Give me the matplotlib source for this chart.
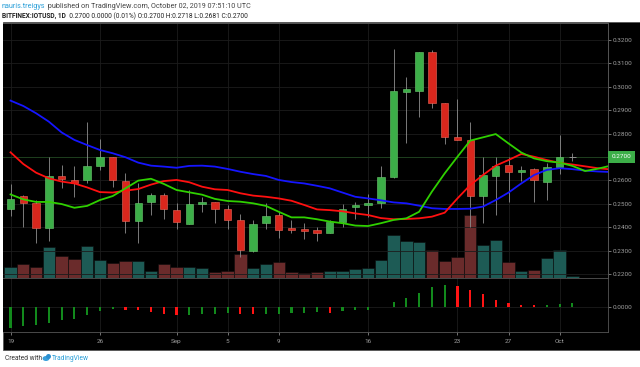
import numpy as np
import matplotlib
matplotlib.use("Agg")
import matplotlib.pyplot as plt
import matplotlib.transforms as mtransforms
from matplotlib.patches import Rectangle, Ellipse

plt.rcParams["font.family"] = ["Roboto", "DejaVu Sans"]

# BITFINEX:IOTUSD daily, 19 Aug - 02 Oct 2019
opens = [0.2476, 0.2535, 0.2502, 0.2395, 0.2617, 0.2600, 0.2600, 0.2663, 0.2701, 0.2599,
         0.2425, 0.2509, 0.2536, 0.2475, 0.2415, 0.2501, 0.2506, 0.2479, 0.2431, 0.2300,
         0.2417, 0.2451, 0.2395, 0.2392, 0.2388, 0.2377, 0.2421, 0.2488, 0.2493, 0.2502,
         0.2616, 0.2978, 0.2983, 0.3150, 0.2932, 0.2784, 0.2773, 0.2535, 0.2620, 0.2667,
         0.2634, 0.2647, 0.2595, 0.2659, 0.2700]
highs = [0.2583, 0.2538, 0.2516, 0.2701, 0.2664, 0.2662, 0.2851, 0.2777, 0.2701, 0.2630,
         0.2590, 0.2548, 0.2545, 0.2505, 0.2559, 0.2530, 0.2508, 0.2493, 0.2456, 0.2431,
         0.2502, 0.2465, 0.2431, 0.2419, 0.2402, 0.2431, 0.2498, 0.2509, 0.2540, 0.2663,
         0.3160, 0.3043, 0.3150, 0.3157, 0.2932, 0.2946, 0.2851, 0.2701, 0.2699, 0.2699,
         0.2662, 0.2652, 0.2673, 0.2794, 0.2718]
lows = [0.2449, 0.2399, 0.2334, 0.2342, 0.2569, 0.2530, 0.2587, 0.2644, 0.2573, 0.2377,
        0.2334, 0.2452, 0.2434, 0.2391, 0.2414, 0.2466, 0.2417, 0.2391, 0.2271, 0.2295,
        0.2392, 0.2355, 0.2374, 0.2348, 0.2342, 0.2374, 0.2402, 0.2435, 0.2445, 0.2483,
        0.2612, 0.2761, 0.2870, 0.2908, 0.2756, 0.2771, 0.2399, 0.2417, 0.2452, 0.2509,
        0.2599, 0.2509, 0.2516, 0.2626, 0.2681]
closes = [0.2519, 0.2502, 0.2395, 0.2617, 0.2606, 0.2587, 0.2663, 0.2701, 0.2600, 0.2425,
          0.2502, 0.2536, 0.2476, 0.2421, 0.2501, 0.2506, 0.2479, 0.2431, 0.2303, 0.2412,
          0.2448, 0.2388, 0.2388, 0.2385, 0.2374, 0.2421, 0.2478, 0.2495, 0.2505, 0.2616,
          0.2982, 0.2991, 0.3150, 0.2932, 0.2784, 0.2771, 0.2535, 0.2623, 0.2662, 0.2634,
          0.2646, 0.2600, 0.2656, 0.2701, 0.2700]
# volume (millions)
volume = [1.07, 1.43, 1.07, 3.13, 2.17, 1.93, 3.23, 1.80, 1.53, 1.70,
          1.70, 0.73, 1.37, 1.07, 1.13, 0.97, 0.63, 0.70, 2.43, 0.97,
          1.40, 1.63, 0.60, 0.50, 0.60, 0.70, 0.70, 0.93, 1.00, 1.83,
          4.33, 3.67, 3.60, 2.83, 1.70, 2.10, 6.30, 3.27, 3.77, 1.60,
          0.67, 0.83, 1.97, 2.83, 0.23]

# Alligator (jaw / teeth / lips), shifted forward past the last bar
jaw = [0.2941, 0.2918, 0.2887, 0.2851, 0.2805, 0.2773, 0.2751, 0.2730, 0.2716, 0.2699,
       0.2676, 0.2663, 0.2659, 0.2654, 0.2662, 0.2663, 0.2659, 0.2649, 0.2637, 0.2627,
       0.2619, 0.2602, 0.2593, 0.2587, 0.2577, 0.2566, 0.2548, 0.2530, 0.2523, 0.2515,
       0.2506, 0.2502, 0.2492, 0.2481, 0.2478, 0.2478, 0.2479, 0.2488, 0.2516, 0.2548,
       0.2587, 0.2623, 0.2645, 0.2652, 0.2648, 0.2642, 0.2638, 0.2636]
teeth = [0.2720, 0.2670, 0.2633, 0.2609, 0.2595, 0.2587, 0.2570, 0.2550, 0.2548, 0.2556,
         0.2563, 0.2582, 0.2597, 0.2602, 0.2592, 0.2573, 0.2562, 0.2559, 0.2545, 0.2535,
         0.2530, 0.2523, 0.2513, 0.2495, 0.2476, 0.2473, 0.2468, 0.2459, 0.2452, 0.2439,
         0.2434, 0.2435, 0.2438, 0.2445, 0.2462, 0.2523, 0.2580, 0.2623, 0.2663, 0.2687,
         0.2713, 0.2701, 0.2687, 0.2675, 0.2668, 0.2660, 0.2652, 0.2647]
lips = [0.2540, 0.2519, 0.2508, 0.2508, 0.2499, 0.2483, 0.2491, 0.2516, 0.2533, 0.2566,
        0.2599, 0.2607, 0.2585, 0.2559, 0.2549, 0.2539, 0.2521, 0.2512, 0.2509, 0.2502,
        0.2491, 0.2466, 0.2442, 0.2442, 0.2434, 0.2424, 0.2417, 0.2407, 0.2405, 0.2417,
        0.2431, 0.2438, 0.2466, 0.2552, 0.2630, 0.2701, 0.2770, 0.2784, 0.2798, 0.2758,
        0.2719, 0.2694, 0.2682, 0.2676, 0.2662, 0.2640, 0.2650, 0.2663]

# awesome oscillator
ao = [-0.0105, -0.0095, -0.0089, -0.0079, -0.0065, -0.0059, -0.0039, -0.0020, -0.0012, -0.0014,
      -0.0015, -0.0024, -0.0034, -0.0040, -0.0039, -0.0034, -0.0033, -0.0030, -0.0034, -0.0035,
      -0.0034, -0.0033, -0.0032, -0.0029, -0.0025, -0.0029, -0.0022, -0.0017, -0.0014, 0.0000,
      0.0024, 0.0044, 0.0072, 0.0099, 0.0112, 0.0104, 0.0087, 0.0064, 0.0037, 0.0022,
      0.0009, 0.0008, 0.0012, 0.0017, 0.0020]

xtick_pos = [0, 7, 13, 17, 21, 28, 35, 39, 43]
xtick_labels = ["19", "26", "Sep", "5", "9", "16", "23", "27", "Oct"]
price_ticks = [0.22, 0.23, 0.24, 0.25, 0.26, 0.27, 0.28, 0.29, 0.30, 0.31, 0.32]
last_price = 0.2700

W, H = 640, 367
UP, DOWN, WICK = "#3cae48", "#d9271d", "#8f8f8f"
GRID = "#1c1c1c"
AXC = "#a0a0a0"
FS = 4.6


def rect(x0, y0, x1, y1):
    return [x0 / W, 1 - y1 / H, (x1 - x0) / W, (y1 - y0) / H]


fig = plt.figure(figsize=(W / 100, H / 100), dpi=100)
fig.patch.set_facecolor("white")
fig.patches.append(Rectangle((3 / W, 1 - 350 / H), 637 / W, 328 / H, transform=fig.transFigure,
                             facecolor="black", edgecolor="#555555", lw=0.6, zorder=-5))

n = len(closes)
x = np.arange(n)
xlim = (-0.59, 46.79)

# volume pane (behind price)
axv = fig.add_axes(rect(3, 23, 608, 278))
axv.set_facecolor("black")
vcol = ["#1d5b55" if c >= o else "#6a2b2b" for o, c in zip(opens, closes)]
axv.bar(x, volume, width=0.96, color=vcol, edgecolor="#0c0c0c", linewidth=0.4)
axv.set_ylim(0, 25.5)
axv.set_xlim(*xlim)
axv.set_xticks([])
axv.set_yticks([])
for t in xtick_pos:
    axv.axvline(t, color=GRID, lw=0.6, zorder=0)

ax = fig.add_axes(rect(3, 23, 608, 278), sharex=axv)
ax.patch.set_alpha(0)
ax.set_ylim(0.21829, 0.32726)
for p in price_ticks:
    ax.axhline(p, color=GRID, lw=0.6, zorder=0)
ax.axhline(last_price, color="#1e3f1e", lw=0.7, zorder=1)

for i in range(n):
    o, h, l, c = opens[i], highs[i], lows[i], closes[i]
    ax.vlines(i, l, h, color=WICK, lw=0.6, zorder=2)
    if abs(c - o) < 1e-6:
        ax.hlines(c, i - 0.28, i + 0.28, color=WICK, lw=0.7, zorder=3)
        continue
    col = UP if c > o else DOWN
    edge = "#6ccb70" if c > o else "#ee6a5c"
    ax.add_patch(Rectangle((i - 0.29, min(o, c)), 0.58, abs(c - o), facecolor=col,
                           edgecolor=edge, lw=0.4, zorder=3))

xa = np.arange(len(jaw))
ax.plot(xa, jaw, color="#1515ff", lw=1.3, zorder=4)
ax.plot(xa, teeth, color="#ff1010", lw=1.3, zorder=4)
ax.plot(xa, lips, color="#2fd000", lw=1.3, zorder=4)

ax.yaxis.tick_right()
ax.set_yticks(price_ticks)
ax.set_yticklabels(["" if abs(p - last_price) < 1e-9 else f"{p:.4f}" for p in price_ticks])
ax.tick_params(axis="y", colors=AXC, labelsize=FS, length=2, width=0.5, pad=1.5)
ax.tick_params(axis="x", bottom=False, labelbottom=False)
for a in (ax, axv):
    for s in a.spines.values():
        s.set_color("#555555")
        s.set_linewidth(0.6)
    a.spines["left"].set_visible(False)

# last price tag on the scale
tr = mtransforms.blended_transform_factory(fig.transFigure, ax.transData)
fig.text(612 / W, last_price, f"{last_price:.4f}", transform=tr, fontsize=FS, color="white",
         va="center", ha="left",
         bbox=dict(boxstyle="square,pad=0.55", facecolor="#3cae48", edgecolor="none"))

# oscillator pane
axo = fig.add_axes(rect(3, 278, 608, 332), sharex=axv)
axo.set_facecolor("black")
ocol = ["#128a1c" if i == 0 or ao[i] >= ao[i - 1] else "#ff1414" for i in range(n)]
axo.bar(x, ao, width=0.17, color=ocol, zorder=3)
axo.set_ylim(-0.0125, 0.0145)
axo.axhline(0, color=GRID, lw=0.6, zorder=0)
for t in xtick_pos:
    axo.axvline(t, color=GRID, lw=0.6, zorder=0)
axo.yaxis.tick_right()
axo.set_yticks([0.0])
axo.set_yticklabels(["0.0000"])
axo.set_xticks(xtick_pos)
axo.set_xticklabels(xtick_labels)
axo.tick_params(axis="y", colors=AXC, labelsize=FS, length=2, width=0.5, pad=1.5)
axo.tick_params(axis="x", colors=AXC, labelsize=FS, length=2, width=0.5, pad=3)
for s in axo.spines.values():
    s.set_color("#555555")
    s.set_linewidth(0.6)
axo.spines["left"].set_visible(False)
axo.set_xlim(*xlim)

# header
fig.canvas.draw()
r = fig.canvas.get_renderer()


def chain(x0, y, parts):
    xp = x0
    for txt, col, wt, size in parts:
        t = fig.text(xp / W, 1 - y / H, txt, fontsize=size, color=col, fontweight=wt,
                     va="center", ha="left")
        xp += t.get_window_extent(renderer=r).width


chain(2, 6, [("nauris.treigys", "#2a9fd8", "normal", 5.25),
             (" published on TradingView.com, October 02, 2019 07:51:10 UTC", "#444444", "normal", 5.25)])
chain(2, 16, [("BITFINEX:IOTUSD, 1D", "#222222", "bold", 4.8),
              ("  0.2700 0.0000 (0.01%) O:0.2700 H:0.2718 L:0.2681 C:0.2700", "#222222", "normal", 4.8)])

# footer
fig.text(5 / W, 1 - 358 / H, "Created with", fontsize=4.8, color="#333333", va="center")
fig.patches.append(Ellipse((46 / W, 1 - 358.5 / H), 7 / W, 5 / H, transform=fig.transFigure,
                           facecolor="#3aa0dc", edgecolor="none"))
fig.patches.append(Ellipse((48.5 / W, 1 - 356.5 / H), 5 / W, 5 / H, transform=fig.transFigure,
                           facecolor="#2b8fd0", edgecolor="none"))
fig.text(52 / W, 1 - 358 / H, "TradingView", fontsize=4.8, color="#2a9fd8", va="center")

fig.savefig("out.png", dpi=100, facecolor="white")
